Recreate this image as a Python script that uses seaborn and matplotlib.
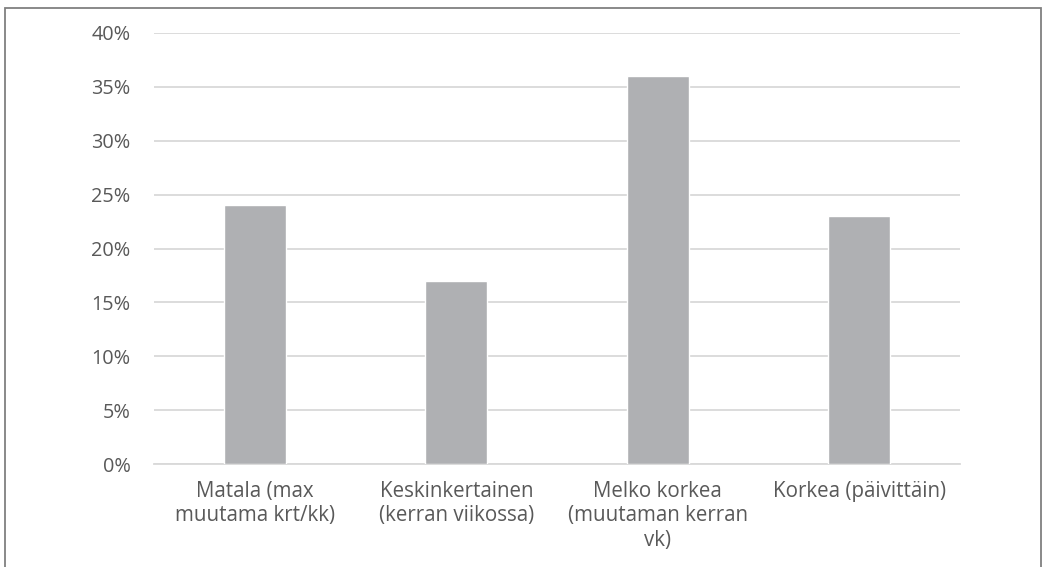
import matplotlib
matplotlib.use("Agg")
import matplotlib.pyplot as plt
import seaborn as sns
import pandas as pd
from matplotlib.patches import Rectangle
from matplotlib.ticker import FuncFormatter

categories = ["Matala (max\nmuutama krt/kk)",
              "Keskinkertainen\n(kerran viikossa)",
              "Melko korkea\n(muutaman kerran\nvk)",
              "Korkea (päivittäin)"]
values = [24, 17, 36, 23]
yticks = [0, 5, 10, 15, 20, 25, 30, 35, 40]

sns.set_theme(style="white")
plt.rcParams['font.family'] = ['Open Sans', 'DejaVu Sans']

fig = plt.figure(figsize=(10.43, 5.67), dpi=100)
ax = fig.add_axes([154/1043, 1-464/567, (960-154)/1043, (464-33)/567])

df = pd.DataFrame({"cat": categories, "val": values})
sns.barplot(data=df, x="cat", y="val", color="#AFB0B3", saturation=1, width=0.31, ax=ax, zorder=3)

ax.set_ylim(0, 40)
ax.set_yticks(yticks)
ax.yaxis.set_major_formatter(FuncFormatter(lambda v, p: f"{int(v)}%"))
ax.grid(axis="y", color="#D9D9D9", linewidth=1.3, zorder=0)
ax.set_axisbelow(True)
for s in ["top", "right", "left"]:
    ax.spines[s].set_visible(False)
ax.spines["bottom"].set_color("#D9D9D9")
ax.spines["bottom"].set_linewidth(1.3)
ax.set_xlabel("")
ax.set_ylabel("")
ax.tick_params(axis="y", length=0, pad=17, labelsize=14.3, labelcolor="#595959")
ax.tick_params(axis="x", length=0, pad=12, labelsize=14.8, labelcolor="#595959")
for lbl in ax.get_xticklabels():
    lbl.set_linespacing(1.22)

fig.patches.append(Rectangle((5/1043, -0.1), (1041-5)/1043, 1.1-8/567,
                             transform=fig.transFigure, fill=False,
                             edgecolor="#808080", linewidth=1.3))

fig.savefig("out.png", dpi=100, facecolor="white")
